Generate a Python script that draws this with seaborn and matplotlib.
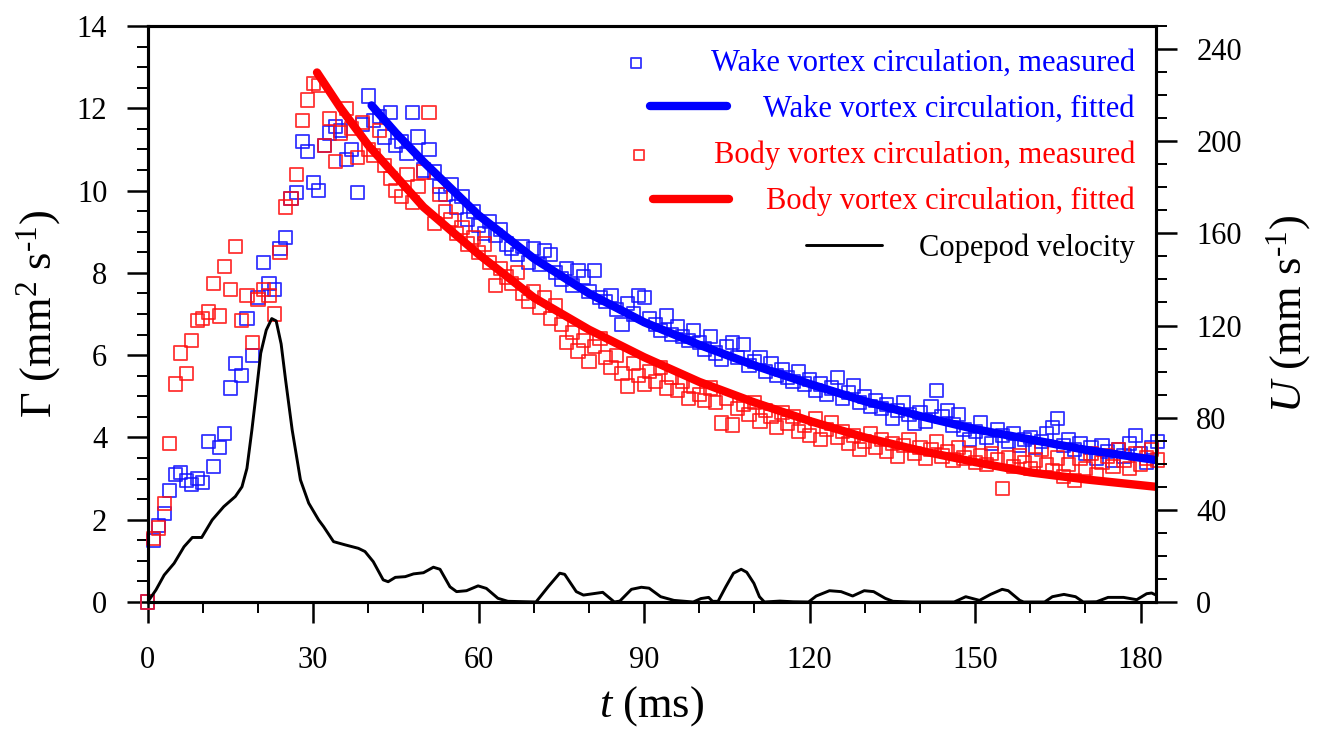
import matplotlib
matplotlib.use('Agg')
import matplotlib.pyplot as plt
import seaborn as sns
import pandas as pd
from matplotlib.ticker import MultipleLocator

# Measured circulation, one sample per ms (t = 0 .. 183)
t_meas = list(range(184))
wake_meas = [
    0.0, 1.5, 1.85, 2.15, 2.7, 3.1, 3.15, 2.95, 2.85, 3.0,
    2.9, 3.9, 3.3, 3.75, 4.1, 5.2, 5.8, 5.5, 6.9, 6.0,
    7.4, 8.25, 7.75, 7.6, 8.6, 8.85, 9.8, 9.95, 11.2, 10.95,
    10.2, 10.0, 11.1, 11.4, 11.55, 11.45, 10.75, 11.0, 9.95, 11.6,
    12.3, 11.7, 11.8, 11.3, 11.9, 11.1, 11.2, 10.9, 11.9, 11.3,
    10.5, 11.0, 10.45, 10.1, 9.9, 10.15, 9.6, 9.85, 9.3, 9.5,
    9.15, 8.95, 9.25, 8.9, 9.05, 8.7, 8.6, 8.45, 8.65, 8.25,
    8.6, 8.2, 8.55, 8.45, 8.0, 7.85, 8.1, 7.7, 8.05, 7.9,
    7.55, 8.05, 7.4, 7.3, 7.45, 7.1, 6.75, 7.25, 7.0, 7.45,
    7.4, 6.9, 6.75, 6.6, 6.95, 6.5, 6.7, 6.45, 6.35, 6.6,
    6.3, 6.15, 6.45, 6.05, 5.9, 6.2, 6.3, 5.95, 6.25, 5.75,
    5.85, 5.95, 5.6, 5.8, 5.5, 5.65, 5.45, 5.35, 5.6, 5.3,
    5.4, 5.15, 5.3, 5.05, 5.2, 5.45, 4.95, 5.1, 5.25, 4.85,
    5.0, 4.75, 4.9, 4.7, 4.8, 4.45, 4.65, 4.85, 4.55, 4.35,
    4.6, 4.4, 4.75, 5.15, 4.5, 4.65, 4.3, 4.55, 4.2, 3.95,
    4.15, 4.35, 4.0, 3.85, 4.2, 4.05, 3.9, 4.1, 3.8, 3.95,
    4.0, 3.75, 3.9, 4.1, 4.25, 4.45, 3.8, 3.95, 3.7, 3.85,
    3.6, 3.75, 3.5, 3.8, 3.65, 3.45, 3.7, 3.55, 3.85, 4.05,
    3.6, 3.4, 3.75, 3.9,
]
body_meas = [
    0.0, 1.55, 1.8, 2.4, 3.85, 5.3, 6.05, 5.55, 6.35, 6.85,
    6.9, 7.05, 7.75, 6.95, 8.15, 7.6, 8.65, 6.85, 7.45, 6.3,
    7.35, 7.6, 7.45, 7.0, 8.5, 9.6, 9.8, 10.4, 11.7, 12.2,
    12.6, 12.55, 11.1, 11.75, 10.7, 11.4, 12.0, 11.5, 10.8, 11.65,
    11.0, 10.85, 11.45, 10.6, 10.3, 10.0, 9.85, 10.4, 9.7, 10.1,
    10.45, 11.9, 9.2, 9.9, 9.5, 9.3, 8.95, 9.1, 8.7, 8.85,
    8.5, 8.7, 8.25, 7.7, 8.1, 7.9, 7.75, 8.0, 7.5, 7.3,
    7.55, 7.15, 7.4, 6.9, 7.2, 6.75, 6.3, 6.55, 6.1, 6.35,
    5.85, 6.2, 6.4, 5.95, 5.7, 6.0, 5.55, 5.25, 5.8, 5.5,
    5.3, 5.6, 5.35, 5.7, 5.2, 5.45, 5.15, 5.35, 4.95, 5.25,
    5.05, 4.9, 5.2, 4.85, 4.35, 4.95, 4.3, 4.7, 4.8, 4.55,
    4.85, 4.4, 4.65, 4.5, 4.25, 4.6, 4.35, 4.5, 4.15, 4.3,
    4.05, 4.45, 3.95, 4.2, 4.35, 4.0, 4.15, 3.85, 4.05, 3.7,
    3.9, 4.1, 3.75, 3.95, 3.65, 3.85, 3.55, 3.8, 3.95, 3.6,
    3.75, 3.5, 3.7, 3.9, 3.55, 3.65, 3.45, 3.75, 3.5, 3.6,
    3.4, 3.55, 3.35, 3.6, 3.45, 2.75, 3.5, 3.3, 3.55, 3.4,
    3.25, 3.45, 3.7, 3.35, 3.2, 3.5, 3.05, 3.35, 2.95, 3.5,
    3.25, 3.6, 3.1, 3.4, 3.55, 3.3, 3.7, 3.45, 3.25, 3.6,
    3.35, 3.5, 3.7, 3.45,
]

# Fitted curves
t_wake_fit = [40.6, 45, 50, 60, 70, 80, 90, 100, 110, 120, 130, 140, 150, 160, 170, 182.8]
wake_fit = [12.07, 11.4, 10.7, 9.4, 8.35, 7.5, 6.8, 6.25, 5.75, 5.3, 4.88, 4.52, 4.2, 3.95, 3.7, 3.45]
t_body_fit = [30.7, 35, 40, 45, 50, 60, 70, 80, 90, 100, 110, 120, 130, 140, 150, 160, 170, 182.8]
body_fit = [12.87, 12.0, 11.1, 10.35, 9.6, 8.45, 7.4, 6.62, 5.95, 5.35, 4.85, 4.4, 4.0, 3.68, 3.4, 3.15, 2.98, 2.8]

# Copepod velocity (mm/s)
t_vel = [0, 1.5, 3, 4.8, 6.6, 8.1, 9.8, 11.7, 13.8, 15.9, 17.1, 18, 18.9, 19.6, 20.5, 21.5, 22.5,
         23.3, 24.2, 25, 26.2, 27.7, 29.2, 31, 31.9, 33.7, 35.8, 38.2, 39.4, 40.9, 42.7, 43.6,
         44.9, 46.7, 48.2, 50, 51.8, 53, 54.8, 56, 57.8, 59.9, 61.4, 63.5, 65.3, 70.4, 72.6,
         74.7, 75.6, 77.7, 79, 82.5, 84.6, 85.6, 87.7, 89.5, 90.9, 93, 95.4, 98.9, 100.3,
         101.7, 102.4, 103.4, 104.8, 106.2, 107.6, 108.6, 109.9, 110.9, 111.8, 114.6, 117,
         119.8, 121.2, 123.6, 125.7, 127.8, 129.9, 131.6, 133.7, 135.1, 138.6, 146.2, 148.3,
         150.8, 152.8, 154.9, 156, 158.1, 158.8, 162.6, 164, 166.1, 168.2, 169.6, 172, 174.1,
         176.9, 179.3, 181.1, 182, 182.8]
vel = [0, 5.2, 11.7, 16.8, 24, 28, 28, 35.6, 41.4, 45.8, 50, 58, 74.7, 89, 108, 118, 123,
       122, 112, 96.5, 74.7, 53, 42.9, 35.6, 32.7, 26.2, 24.8, 23.3, 21.9, 17.5, 9.6, 8.8,
       10.7, 11, 12.2, 12.7, 15.1, 14.2, 6.6, 4.5, 4.9, 7, 5.9, 1.6, 0.3, 0, 6.6,
       12.5, 12, 4.5, 3.0, 4.2, 0, 0.4, 5.5, 6.4, 6.0, 2.3, 0.7, 0, 1.5,
       2, 0.3, 0.3, 6.6, 12.5, 14.2, 12.9, 8.1, 2.3, 0, 0.4, 0.1,
       0, 2.6, 4.9, 4.5, 2.6, 4.9, 4.5, 1.6, 0.3, 0, 0, 2.3,
       0.7, 3.3, 5.5, 4.9, 0.7, 0, 0, 2.3, 3.3, 2.3, 0, 0.1, 2,
       2, 1.0, 3.6, 3.9, 3.0]

sns.set_style('ticks')
plt.rcParams['font.family'] = ['Liberation Serif', 'DejaVu Serif']
plt.rcParams['mathtext.fontset'] = 'custom'
plt.rcParams['mathtext.rm'] = 'Liberation Serif'
plt.rcParams['mathtext.it'] = 'Liberation Serif:italic'
for k in ('text.color', 'axes.labelcolor', 'xtick.color', 'ytick.color', 'axes.edgecolor'):
    plt.rcParams[k] = 'black'

fig = plt.figure(figsize=(13.17, 7.32), dpi=100)
ax = fig.add_axes([0.1121, 0.1776, 0.7657, 0.7869])
ax2 = ax.twinx()

df_meas = pd.DataFrame({'t': t_meas, 'wake': wake_meas, 'body': body_meas})
sns.scatterplot(data=df_meas, x='t', y='wake', marker='s', s=90, facecolor='none',
                edgecolor='#1010ff', linewidth=1.3, alpha=0.85, ax=ax, clip_on=False,
                label='Wake vortex circulation, measured', legend=False)
sns.scatterplot(data=df_meas, x='t', y='body', marker='s', s=90, facecolor='none',
                edgecolor='#ff1010', linewidth=1.3, alpha=0.85, ax=ax, clip_on=False,
                label='Body vortex circulation, measured', legend=False)
sns.lineplot(x=t_wake_fit, y=wake_fit, color='#0000ff', linewidth=6, ax=ax,
             label='Wake vortex circulation, fitted', legend=False,
             solid_capstyle='round')
sns.lineplot(x=t_body_fit, y=body_fit, color='#ff0000', linewidth=6, ax=ax,
             label='Body vortex circulation, fitted', legend=False,
             solid_capstyle='round')
sns.lineplot(x=t_vel, y=vel, color='black', linewidth=2.1, ax=ax2,
             label='Copepod velocity', legend=False)

ax.set_xlim(0, 182.8)
ax.set_ylim(0, 14)
ax2.set_ylim(0, 250)

ax.xaxis.set_major_locator(MultipleLocator(30))
ax.xaxis.set_minor_locator(MultipleLocator(10))
ax.yaxis.set_major_locator(MultipleLocator(2))
ax.yaxis.set_minor_locator(MultipleLocator(0.5))
ax2.yaxis.set_major_locator(MultipleLocator(40))
ax2.yaxis.set_minor_locator(MultipleLocator(10))

for a in (ax, ax2):
    for sp in a.spines.values():
        sp.set_linewidth(2.2)
    a.tick_params(which='major', direction='out', length=15, width=1.8,
                  labelsize=22, pad=14)
    a.tick_params(which='minor', direction='out', length=8, width=1.4)
ax.tick_params(axis='y', which='both', right=False)
ax.tick_params(axis='x', which='both', top=False)
ax.tick_params(axis='x', which='major', pad=17)

ax.set_xlabel('$t$ (ms)', fontsize=32, labelpad=6)
ax.set_ylabel(r'$\Gamma$ (mm$^{2}$ s$^{\text{-}1}$)', fontsize=32, labelpad=10)
ax2.set_ylabel(r'$U$ (mm s$^{\text{-}1}$)', fontsize=32, labelpad=16)

h1, l1 = ax.get_legend_handles_labels()
h2, l2 = ax2.get_legend_handles_labels()
handles = dict(zip(l1 + l2, h1 + h2))
order = ['Wake vortex circulation, measured', 'Wake vortex circulation, fitted',
         'Body vortex circulation, measured', 'Body vortex circulation, fitted',
         'Copepod velocity']
colors = ['#0000ff', '#0000ff', '#ff0000', '#ff0000', 'black']
leg = ax2.legend([handles[k] for k in order], order, loc='upper right', frameon=False,
                 fontsize=22, handlelength=2.5, handletextpad=1.2, labelspacing=0.55,
                 markerscale=0.75, borderpad=0, borderaxespad=0,
                 bbox_to_anchor=(0.979, 0.96))
leg._legend_handle_box.get_children()[0].align = 'right'
for txt, c in zip(leg.get_texts(), colors):
    txt.set_color(c)

plt.savefig('out.png', dpi=100)
